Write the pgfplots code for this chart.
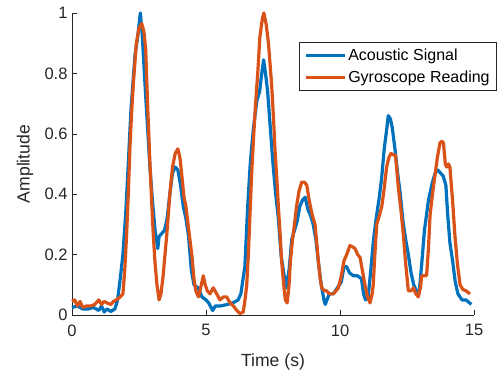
\documentclass[border=0pt]{standalone}
\usepackage{fontspec}
\setmainfont{Liberation Sans}
\usepackage{pgfplots}
\pgfplotsset{compat=1.18}
\definecolor{mblue}{rgb}{0,0.447,0.741}
\definecolor{morange}{rgb}{0.85,0.325,0.098}
\definecolor{mgray}{rgb}{0.15,0.15,0.15}
\begin{document}
\begin{tikzpicture}
\begin{axis}[
  scale only axis, width=402pt, height=302pt,
  xmin=0, xmax=15, ymin=0, ymax=1,
  axis lines=left, axis line style={-, mgray, line width=0.5pt},
  xtick={0,5,10,15}, ytick={0,0.2,0.4,0.6,0.8,1},
  yticklabels={0,0.2,0.4,0.6,0.8,1},
  tick style={mgray, line width=0.5pt}, major tick length=5pt, tick align=inside,
  /pgf/number format/assume math mode=true,
  ticklabel style={font=\fontsize{16.5}{18}\selectfont, text=mgray},
  xticklabel style={yshift=-6pt},
  yticklabel style={xshift=-1pt},
  xlabel={Time (s)}, ylabel={Amplitude},
  label style={font=\fontsize{17.6}{20}\selectfont, text=mgray},
  xlabel style={at={(axis description cs:0.5,-0.156)}, anchor=center},
  ylabel style={at={(axis description cs:-0.117,0.5)}, anchor=center, rotate=0},
  legend style={at={(1.057,0.903)}, anchor=north east, draw=mgray, line width=0.5pt,
    font=\fontsize{16}{18}\selectfont, text=black, inner xsep=5pt, inner ysep=4.5pt, row sep=5pt,
    cells={anchor=west}},
  legend image code/.code={\draw[#1] (-3pt,0pt) -- (36pt,0pt);},
  every axis plot/.append style={line width=3.2pt, line join=round},
  clip=false,
]
\addplot[mblue] coordinates {(0,0.025) (0.2,0.03) (0.4,0.02) (0.6,0.02) (0.8,0.025) (1.0,0.015) (1.1,0.03) (1.2,0.01) (1.3,0.02) (1.45,0.012) (1.6,0.02) (1.7,0.05) (1.8,0.12) (1.9,0.2) (2.0,0.33) (2.1,0.5) (2.2,0.68) (2.3,0.8) (2.35,0.86) (2.45,0.92) (2.55,1.0) (2.62,0.93) (2.7,0.8) (2.8,0.65) (2.9,0.5) (3.0,0.38) (3.1,0.28) (3.2,0.22) (3.25,0.26) (3.35,0.27) (3.45,0.28) (3.55,0.32) (3.65,0.4) (3.75,0.47) (3.85,0.49) (3.95,0.48) (4.05,0.43) (4.15,0.36) (4.25,0.32) (4.35,0.26) (4.45,0.15) (4.55,0.1) (4.7,0.09) (4.85,0.06) (5.0,0.05) (5.1,0.04) (5.25,0.015) (5.35,0.03) (5.55,0.03) (5.8,0.035) (6.0,0.04) (6.2,0.05) (6.3,0.07) (6.45,0.16) (6.55,0.35) (6.65,0.5) (6.77,0.62) (6.9,0.71) (7.0,0.74) (7.08,0.8) (7.15,0.845) (7.22,0.8) (7.3,0.74) (7.4,0.62) (7.5,0.5) (7.6,0.4) (7.7,0.32) (7.8,0.2) (7.9,0.14) (8.0,0.09) (8.1,0.15) (8.2,0.25) (8.3,0.28) (8.4,0.31) (8.5,0.36) (8.6,0.38) (8.7,0.39) (8.8,0.35) (8.9,0.33) (9.0,0.3) (9.1,0.25) (9.2,0.17) (9.3,0.1) (9.4,0.05) (9.45,0.035) (9.6,0.07) (9.75,0.07) (9.9,0.09) (10.05,0.11) (10.15,0.16) (10.25,0.16) (10.35,0.14) (10.5,0.13) (10.65,0.13) (10.8,0.12) (10.88,0.07) (10.95,0.05) (11.05,0.06) (11.15,0.15) (11.25,0.25) (11.35,0.32) (11.45,0.38) (11.55,0.45) (11.65,0.55) (11.75,0.62) (11.8,0.66) (11.88,0.65) (11.95,0.62) (12.05,0.55) (12.15,0.47) (12.25,0.4) (12.35,0.31) (12.45,0.25) (12.55,0.2) (12.65,0.14) (12.75,0.1) (12.85,0.08) (12.95,0.07) (13.05,0.17) (13.15,0.28) (13.3,0.38) (13.45,0.44) (13.55,0.47) (13.65,0.48) (13.75,0.47) (13.85,0.46) (13.95,0.43) (14.02,0.33) (14.1,0.24) (14.2,0.18) (14.3,0.11) (14.4,0.07) (14.55,0.05) (14.7,0.05) (14.9,0.035)};
\addlegendentry{Acoustic Signal}
\addplot[morange] coordinates {(0,0.045) (0.1,0.05) (0.2,0.03) (0.3,0.045) (0.4,0.025) (0.55,0.03) (0.7,0.03) (0.85,0.035) (1.0,0.05) (1.1,0.035) (1.2,0.045) (1.3,0.04) (1.45,0.035) (1.55,0.045) (1.65,0.05) (1.8,0.06) (1.9,0.07) (1.97,0.15) (2.04,0.27) (2.1,0.4) (2.16,0.55) (2.23,0.68) (2.3,0.78) (2.4,0.9) (2.5,0.95) (2.6,0.965) (2.68,0.94) (2.75,0.88) (2.82,0.7) (2.9,0.52) (2.97,0.38) (3.03,0.27) (3.1,0.17) (3.17,0.1) (3.25,0.05) (3.32,0.07) (3.4,0.13) (3.47,0.2) (3.55,0.28) (3.65,0.4) (3.75,0.49) (3.85,0.535) (3.95,0.55) (4.03,0.52) (4.1,0.46) (4.18,0.39) (4.25,0.36) (4.33,0.3) (4.4,0.25) (4.47,0.2) (4.55,0.12) (4.62,0.08) (4.72,0.06) (4.8,0.09) (4.9,0.13) (4.97,0.1) (5.05,0.08) (5.15,0.07) (5.27,0.09) (5.4,0.07) (5.52,0.05) (5.65,0.06) (5.77,0.06) (5.9,0.04) (6.02,0.03) (6.15,0.015) (6.27,0.005) (6.39,0.01) (6.47,0.06) (6.52,0.1) (6.58,0.2) (6.64,0.33) (6.7,0.46) (6.77,0.58) (6.85,0.7) (6.93,0.8) (7.01,0.92) (7.1,0.98) (7.16,1.0) (7.25,0.96) (7.33,0.9) (7.4,0.82) (7.45,0.76) (7.52,0.65) (7.58,0.54) (7.65,0.44) (7.7,0.36) (7.77,0.26) (7.82,0.18) (7.9,0.1) (7.96,0.05) (8.03,0.04) (8.1,0.1) (8.15,0.18) (8.23,0.25) (8.3,0.3) (8.38,0.36) (8.47,0.41) (8.57,0.44) (8.67,0.44) (8.76,0.43) (8.85,0.38) (8.94,0.34) (9.0,0.32) (9.07,0.3) (9.13,0.24) (9.19,0.18) (9.26,0.12) (9.32,0.09) (9.42,0.08) (9.5,0.08) (9.6,0.07) (9.75,0.07) (9.85,0.08) (9.94,0.09) (10.05,0.13) (10.15,0.18) (10.25,0.2) (10.37,0.23) (10.48,0.225) (10.56,0.22) (10.66,0.2) (10.75,0.19) (10.85,0.14) (10.93,0.1) (11.03,0.06) (11.12,0.04) (11.2,0.07) (11.24,0.1) (11.3,0.2) (11.37,0.3) (11.47,0.33) (11.56,0.36) (11.65,0.42) (11.74,0.49) (11.82,0.52) (11.9,0.535) (12.0,0.53) (12.07,0.53) (12.13,0.47) (12.18,0.42) (12.27,0.35) (12.36,0.27) (12.45,0.17) (12.55,0.08) (12.65,0.08) (12.74,0.09) (12.83,0.07) (12.92,0.06) (13.0,0.09) (13.05,0.13) (13.15,0.13) (13.23,0.13) (13.3,0.22) (13.36,0.33) (13.45,0.4) (13.54,0.46) (13.63,0.52) (13.73,0.57) (13.8,0.575) (13.86,0.57) (13.93,0.5) (13.98,0.49) (14.05,0.5) (14.1,0.49) (14.2,0.38) (14.29,0.26) (14.38,0.17) (14.48,0.1) (14.58,0.085) (14.7,0.08) (14.85,0.07)};
\addlegendentry{Gyroscope Reading}
\end{axis}
\pgfresetboundingbox
\path[use as bounding box] (-72pt,-61pt) rectangle (425pt,315pt);
\end{tikzpicture}
\end{document}
